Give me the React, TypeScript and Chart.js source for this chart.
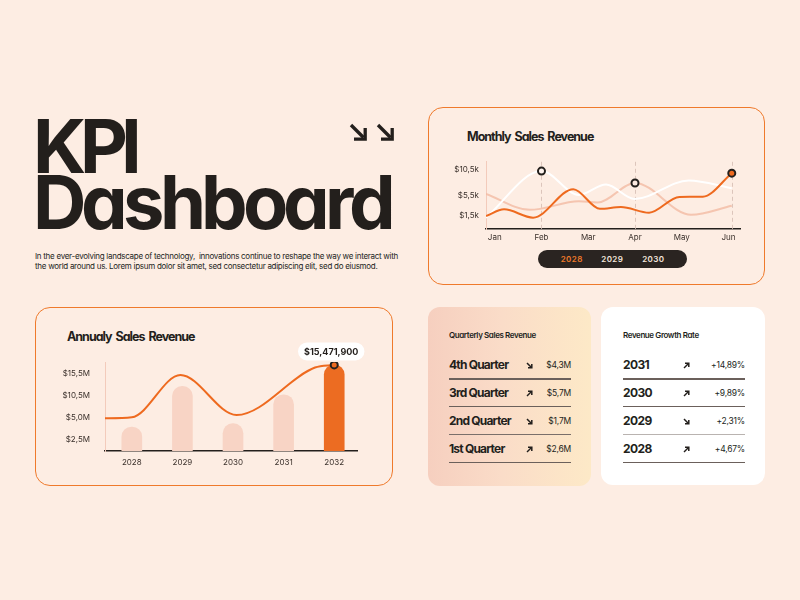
import React, { useEffect, useRef } from 'react';
import { Chart, registerables } from 'chart.js';

Chart.register(...registerables);

// ---------- Monthly Sales Revenue (line chart) ----------
const monthLabels = ['Jan', 'Feb', 'Mar', 'Apr', 'May', 'Jun'];
const monthlyYTicks = [1.5, 5.5, 10.5];
const yearTabs = ['2028', '2029', '2030'];

const sales2028Months = [0.813, 1.2, 1.82, 2.68, 3.25, 3.7, 4.3, 4.95, 5.45, 6.07];
const sales2028Values = [1.5, 2.8, 1.2, 6.7, 2.9, 3.25, 2.15, 5.2, 5.25, 9.8];

const sales2029Months = [0.813, 2, 2.8, 3.38, 3.99, 5.15, 6.07];
const sales2029Values = [1.2, 10.2, 5.6, 7.6, 4.8, 8.4, 6.9];

const sales2030Months = [0.813, 1.75, 2.8, 3.2, 4, 5.2, 6.07];
const sales2030Values = [5.8, 2.7, 4.35, 4.15, 7.9, 1.75, 3.5];

// ---------- Annualy Sales Revenue (bar + line) ----------
const annualYears = ['2028', '2029', '2030', '2031', '2032'];
const annualRevenue = [4.31, 11.63, 4.91, 10.12, 15.4719]; // $M
const annualTrendPos = [-0.53, 0, 0.96, 2.07, 3.62, 4];
const annualTrendValues = [5.88, 6.06, 13.66, 6.47, 15.0, 15.4719];
const annualYTickLabels = ['$15,5M', '$10,5M', '$5,0M', '$2,5M'];

// ---------- Tables ----------
const quarterNames = ['4th Quarter', '3rd Quarter', '2nd Quarter', '1st Quarter'];
const quarterValues = ['$4,3M', '$5,7M', '$1,7M', '$2,6M'];
const quarterTrend = ['down', 'up', 'down', 'up'];

const growthYears = ['2031', '2030', '2029', '2028'];
const growthRates = ['+14,89%', '+9,89%', '+2,31%', '+4,67%'];
const growthTrend = ['up', 'up', 'down', 'up'];

const INK = '#231f1c';
const ORANGE = '#ee6a1f';
const BG = '#fdede3';
const FONT = 'Inter, "Noto Sans", sans-serif';
const GEO = { fontFeatureSettings: '"cv11" 1' } as React.CSSProperties;

const HEAD_FACE = `@font-face {
  font-family: 'KPIHead';
  src: local('Inter Bold'), local('Inter-Bold'), local('Inter Variable'), local('InterVariable'), local('Inter');
  font-weight: 700;
  ascent-override: 75%;
  descent-override: 0%;
  line-gap-override: 0%;
}`;

const fmtComma = (v: number) => v.toFixed(1).replace('.', ',');
const pts = (xs: number[], ys: number[]) => xs.map((x, i) => ({ x, y: ys[i] }));

const markerGuides = {
  id: 'markerGuides',
  beforeDatasetsDraw(chart: any) {
    const { ctx, chartArea } = chart;
    chart.data.datasets.forEach((ds: any, i: number) => {
      if (ds.markerIndex == null) return;
      const pt = chart.getDatasetMeta(i).data[ds.markerIndex];
      if (!pt) return;
      ctx.save();
      ctx.setLineDash([4, 3]);
      ctx.strokeStyle = '#dcc5bb';
      ctx.lineWidth = 1;
      ctx.beginPath();
      ctx.moveTo(Math.round(pt.x) + 0.5, chartArea.top);
      ctx.lineTo(Math.round(pt.x) + 0.5, chartArea.bottom);
      ctx.stroke();
      ctx.restore();
    });
  },
};

const peakLabel = {
  id: 'peakLabel',
  afterDatasetsDraw(chart: any) {
    const idx = chart.data.datasets.findIndex((d: any) => d.type === 'line');
    const meta = chart.getDatasetMeta(idx);
    const pt = meta.data[meta.data.length - 1];
    if (!pt) return;
    const { ctx } = chart;
    const value = annualRevenue[annualRevenue.length - 1];
    const text = '$' + Math.round(value * 1e6).toLocaleString('en-US');
    ctx.save();
    ctx.font = `700 9px ${FONT}`;
    const w = ctx.measureText(text).width + 12;
    const h = 18;
    const cx = pt.x - 3;
    const cy = pt.y - 13.5;
    ctx.fillStyle = '#ffffff';
    ctx.beginPath();
    ctx.roundRect(cx - w / 2, cy - h / 2, w, h, 9);
    ctx.fill();
    ctx.fillStyle = INK;
    ctx.textAlign = 'center';
    ctx.textBaseline = 'middle';
    ctx.fillText(text, cx, cy + 0.5);
    ctx.restore();
  },
};

function markerRadius(idx: number, r: number) {
  return (c: any) => (c.dataIndex === idx ? r : 0);
}

function MonthlyChart() {
  const ref = useRef<HTMLCanvasElement>(null);
  useEffect(() => {
    const chart = new Chart(ref.current!, {
      type: 'line',
      data: {
        datasets: [
          {
            label: yearTabs[0],
            data: pts(sales2028Months, sales2028Values),
            borderColor: ORANGE,
            borderWidth: 2,
            cubicInterpolationMode: 'monotone',
            markerIndex: sales2028Months.length - 1,
            pointRadius: markerRadius(sales2028Months.length - 1, 3.5),
            pointBackgroundColor: ORANGE,
            pointBorderColor: INK,
            pointBorderWidth: 2,
          } as any,
          {
            label: yearTabs[1],
            data: pts(sales2029Months, sales2029Values),
            borderColor: '#ffffff',
            borderWidth: 2,
            cubicInterpolationMode: 'monotone',
            markerIndex: 1,
            pointRadius: markerRadius(1, 3.5),
            pointBackgroundColor: '#fdf3ee',
            pointBorderColor: INK,
            pointBorderWidth: 2,
          } as any,
          {
            label: yearTabs[2],
            data: pts(sales2030Months, sales2030Values),
            borderColor: 'rgba(243, 186, 163, 0.8)',
            borderWidth: 2,
            cubicInterpolationMode: 'monotone',
            markerIndex: 4,
            pointRadius: markerRadius(4, 3.5),
            pointBackgroundColor: '#fbe9e0',
            pointBorderColor: INK,
            pointBorderWidth: 2,
          } as any,
        ],
      },
      options: {
        animation: false,
        responsive: true,
        maintainAspectRatio: false,
        layout: { padding: { top: 10, right: 10, left: 0, bottom: 0 } },
        plugins: { legend: { display: false }, tooltip: { enabled: false } },
        scales: {
          x: {
            type: 'linear',
            min: 0.813,
            max: 6.246,
            afterBuildTicks: (s: any) => {
              s.ticks = monthLabels.map((_, i) => ({ value: i + 1 }));
            },
            afterFit: (s: any) => {
              s.height = 21;
            },
            ticks: {
              callback: (v: any) => monthLabels[Math.round(v) - 1],
              padding: 4,
              color: '#3a302b',
              font: { size: 8, family: FONT },
              maxRotation: 0,
              autoSkip: false,
            },
            grid: { display: false, drawTicks: false },
            border: { display: true, color: INK, width: 1.5 },
          },
          y: {
            type: 'linear',
            min: -1,
            max: 12,
            afterBuildTicks: (s: any) => {
              s.ticks = monthlyYTicks.map((v) => ({ value: v }));
            },
            afterFit: (s: any) => {
              s.width = 46;
            },
            ticks: {
              callback: (v: any) => '$' + fmtComma(v) + 'k',
              padding: 7,
              color: '#3a302b',
              font: { size: 8, family: FONT },
            },
            grid: { display: false, drawTicks: false },
            border: { display: true, color: '#f3cbbb', width: 1 },
          },
        },
      } as any,
      plugins: [markerGuides],
    });
    return () => chart.destroy();
  }, []);
  return (
    <div style={{ position: 'absolute', left: 440, top: 150, width: 310, height: 100 }}>
      <canvas ref={ref} />
    </div>
  );
}

function AnnualChart() {
  const ref = useRef<HTMLCanvasElement>(null);
  useEffect(() => {
    const lastIdx = annualTrendPos.length - 1;
    const chart = new Chart(ref.current!, {
      data: {
        datasets: [
          {
            type: 'line',
            label: 'Trend',
            data: pts(annualTrendPos, annualTrendValues),
            borderColor: ORANGE,
            borderWidth: 2,
            cubicInterpolationMode: 'monotone',
            pointRadius: markerRadius(lastIdx, 3.5),
            pointBackgroundColor: ORANGE,
            pointBorderColor: INK,
            pointBorderWidth: 2,
            order: 0,
          },
          {
            type: 'bar',
            label: 'Revenue',
            data: annualRevenue.map((v, i) => ({ x: i, y: v })),
            backgroundColor: annualRevenue.map((_, i) =>
              i === annualRevenue.length - 1 ? '#ec6c22' : '#f8d4c5'
            ),
            barThickness: 20,
            borderRadius: { topLeft: 10, topRight: 10, bottomLeft: 0, bottomRight: 0 },
            borderSkipped: 'bottom',
            order: 1,
          },
        ],
      } as any,
      options: {
        animation: false,
        responsive: true,
        maintainAspectRatio: false,
        layout: { padding: { top: 32, right: 13, left: 0, bottom: 0 } },
        plugins: { legend: { display: false }, tooltip: { enabled: false } },
        scales: {
          x: {
            type: 'linear',
            min: -0.53,
            max: 4.45,
            offset: false,
            afterBuildTicks: (s: any) => {
              s.ticks = annualYears.map((_, i) => ({ value: i }));
            },
            afterFit: (s: any) => {
              s.height = 24;
            },
            ticks: {
              callback: (v: any) => annualYears[Math.round(v)],
              padding: 7,
              color: '#3a302b',
              font: { size: 8, family: FONT },
              maxRotation: 0,
              autoSkip: false,
            },
            grid: { display: false, drawTicks: false },
            border: { display: true, color: INK, width: 1.5 },
          },
          y: {
            type: 'linear',
            display: false,
            min: 0,
            max: 16,
          },
          yLabels: {
            type: 'category',
            position: 'left',
            labels: annualYTickLabels,
            offset: true,
            afterFit: (s: any) => {
              s.width = 45;
            },
            ticks: {
              padding: 15,
              color: '#3a302b',
              font: { size: 8, family: FONT },
            },
            grid: { display: false, drawTicks: false },
            border: { display: true, color: '#f3cbbb', width: 1 },
          },
        },
      } as any,
      plugins: [peakLabel],
    });
    return () => chart.destroy();
  }, []);
  return (
    <div style={{ position: 'absolute', left: 60, top: 330, width: 310, height: 145 }}>
      <canvas ref={ref} />
    </div>
  );
}

function BigArrow({ x, y }: { x: number; y: number }) {
  return (
    <svg
      width={18}
      height={18}
      viewBox="0 0 18 18"
      style={{ position: 'absolute', left: x, top: y }}
    >
      <path d="M2 2 L14.5 14.5" stroke={INK} strokeWidth={3.3} fill="none" />
      <path d="M16.2 5 V16.2 H5" stroke={INK} strokeWidth={3.3} fill="none" />
    </svg>
  );
}

function SmallArrow({ x, y, dir }: { x: number; y: number; dir: string }) {
  const up = dir === 'up';
  return (
    <svg
      width={7}
      height={7}
      viewBox="0 0 7 7"
      style={{ position: 'absolute', left: x, top: y }}
    >
      {up ? (
        <>
          <path d="M1 6 L5.5 1.5" stroke={INK} strokeWidth={1.5} fill="none" />
          <path d="M2 1.2 H5.8 V5" stroke={INK} strokeWidth={1.5} fill="none" />
        </>
      ) : (
        <>
          <path d="M1 1 L5.5 5.5" stroke={INK} strokeWidth={1.5} fill="none" />
          <path d="M5.8 2 V5.8 H2" stroke={INK} strokeWidth={1.5} fill="none" />
        </>
      )}
    </svg>
  );
}

function Table({
  left,
  right,
  arrowX,
  names,
  values,
  trends,
  lineColors,
  nameSpacing,
}: {
  left: number;
  right: number;
  arrowX: number;
  names: string[];
  values: string[];
  trends: string[];
  lineColors: string[];
  nameSpacing: number;
}) {
  return (
    <>
      {names.map((n, i) => {
        const cy = 365.3 + i * 28;
        return (
          <React.Fragment key={n}>
            <div
              style={{
                position: 'absolute',
                left,
                top: cy - 8,
                height: 16,
                lineHeight: '16px',
                fontSize: 12,
                fontWeight: 700,
                letterSpacing: nameSpacing,
                whiteSpace: 'nowrap',
              }}
            >
              {n}
            </div>
            <SmallArrow x={arrowX} y={cy - 3} dir={trends[i]} />
            <div
              style={{
                position: 'absolute',
                left: right - 60,
                width: 60,
                top: cy - 6,
                height: 12,
                lineHeight: '12px',
                fontSize: 8.5,
                textAlign: 'right',
                whiteSpace: 'nowrap',
                letterSpacing: -0.2,
              }}
            >
              {values[i]}
            </div>
            <div
              style={{
                position: 'absolute',
                left,
                top: 378 + i * 27.9,
                width: right - left,
                height: 1.5,
                background: lineColors[i],
              }}
            />
          </React.Fragment>
        );
      })}
    </>
  );
}

const headStyle: React.CSSProperties = {
  position: 'absolute',
  left: 33,
  height: 56,
  fontFamily: `'KPIHead', ${FONT}`,
  fontSize: 74,
  lineHeight: '56px',
  fontWeight: 700,
  whiteSpace: 'nowrap',
  ...GEO,
};

export default function App() {
  return (
    <div
      style={{
        position: 'fixed',
        left: 0,
        top: 0,
        width: 800,
        height: 600,
        background: BG,
        fontFamily: FONT,
        color: INK,
        overflow: 'hidden',
      }}
    >
      <style>{HEAD_FACE}</style>
      {/* Headline */}
      <div style={{ ...headStyle, top: 117, letterSpacing: -6.5 }}>KPI</div>
      <div style={{ ...headStyle, top: 172.5, letterSpacing: -4.8 }}>Dashboard</div>
      <BigArrow x={348.5} y={123} />
      <BigArrow x={376} y={123} />
      <div
        style={{
          position: 'absolute',
          left: 35,
          top: 251,
          fontSize: 8,
          lineHeight: '10px',
          whiteSpace: 'nowrap',
          letterSpacing: -0.28,
        }}
      >
        In the ever-evolving landscape of technology,&nbsp; innovations continue to reshape the way we interact with
        <br />
        the world around us. Lorem ipsum dolor sit amet, sed consectetur adipiscing elit, sed do eiusmod.
      </div>

      {/* Monthly card */}
      <div
        style={{
          position: 'absolute',
          left: 428,
          top: 107,
          width: 337,
          height: 178,
          border: '1.8px solid #ef7a2c',
          borderRadius: 15,
          boxSizing: 'border-box',
        }}
      />
      <div
        style={{
          position: 'absolute',
          left: 467,
          top: 129,
          fontSize: 12.5,
          lineHeight: '16px',
          fontWeight: 700,
          letterSpacing: -1,
          wordSpacing: 2,
          whiteSpace: 'nowrap',
          ...GEO,
        }}
      >
        Monthly Sales Revenue
      </div>
      <MonthlyChart />
      <div
        style={{
          position: 'absolute',
          left: 538,
          top: 250,
          width: 149,
          height: 18,
          borderRadius: 9,
          background: '#2a2421',
        }}
      />
      {yearTabs.map((y, i) => (
        <div
          key={y}
          style={{
            position: 'absolute',
            left: [571.7, 612.3, 653.3][i] - 20,
            width: 40,
            top: 252,
            height: 14,
            lineHeight: '14px',
            textAlign: 'center',
            fontSize: 8,
            fontWeight: 600,
            letterSpacing: 0.4,
            color: i === 0 ? '#f07a2a' : '#f4e6de',
          }}
        >
          {y}
        </div>
      ))}

      {/* Annual card */}
      <div
        style={{
          position: 'absolute',
          left: 35,
          top: 307,
          width: 358,
          height: 179,
          border: '1.8px solid #ef7a2c',
          borderRadius: 15,
          boxSizing: 'border-box',
        }}
      />
      <div
        style={{
          position: 'absolute',
          left: 67,
          top: 329,
          fontSize: 12.5,
          lineHeight: '16px',
          fontWeight: 700,
          letterSpacing: -1,
          wordSpacing: 2,
          whiteSpace: 'nowrap',
          ...GEO,
        }}
      >
        Annualy Sales Revenue
      </div>
      <AnnualChart />

      {/* Quarterly card */}
      <div
        style={{
          position: 'absolute',
          left: 428,
          top: 307,
          width: 163,
          height: 179,
          borderRadius: 12,
          background: 'linear-gradient(90deg, #f6cfbf 0%, #fadcc8 45%, #fde9c7 100%)',
        }}
      />
      <div
        style={{
          position: 'absolute',
          left: 449,
          top: 330,
          fontSize: 8,
          lineHeight: '10px',
          fontWeight: 600,
          letterSpacing: -0.4,
          whiteSpace: 'nowrap',
          ...GEO,
        }}
      >
        Quarterly Sales Revenue
      </div>
      <Table
        left={449}
        right={571}
        arrowX={526}
        names={quarterNames}
        values={quarterValues}
        trends={quarterTrend}
        lineColors={['#6b605b', '#6b605b', '#7a6f6a', '#6b605b']}
        nameSpacing={-0.8}
      />

      {/* Growth card */}
      <div
        style={{
          position: 'absolute',
          left: 601,
          top: 307,
          width: 164,
          height: 178,
          borderRadius: 12,
          background: '#ffffff',
        }}
      />
      <div
        style={{
          position: 'absolute',
          left: 623,
          top: 330,
          fontSize: 8,
          lineHeight: '10px',
          fontWeight: 600,
          letterSpacing: -0.4,
          whiteSpace: 'nowrap',
          ...GEO,
        }}
      >
        Revenue Growth Rate
      </div>
      <Table
        left={623}
        right={745}
        arrowX={683}
        names={growthYears}
        values={growthRates}
        trends={growthTrend}
        lineColors={['#6b605b', '#6b605b', '#b9b3b0', '#6b605b']}
        nameSpacing={-0.6}
      />
    </div>
  );
}
